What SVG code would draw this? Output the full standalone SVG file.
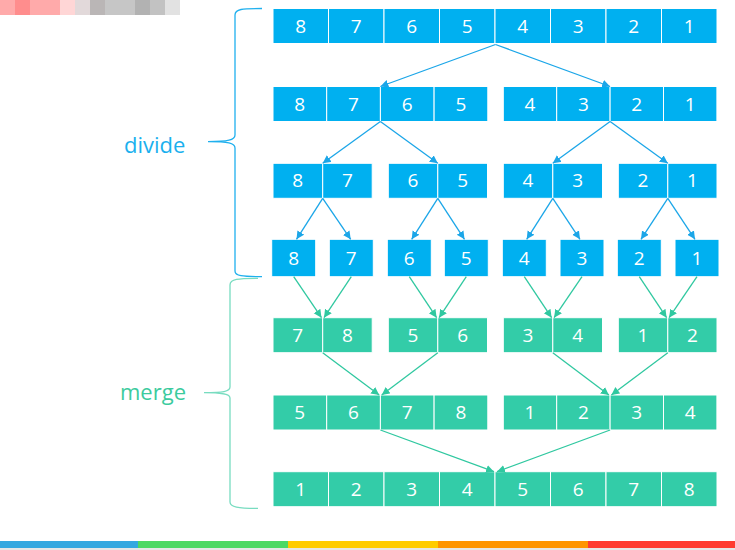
<svg xmlns="http://www.w3.org/2000/svg" width="735" height="550" viewBox="0 0 735 550">
<style>
.b rect{fill:#00B0F0;stroke:#fff;stroke-width:1}
.g rect{fill:#33CCA8;stroke:#fff;stroke-width:1}
text{font-family:"Open Sans","Liberation Sans",sans-serif;font-size:19px;fill:#fff;text-anchor:middle}
.lbl{font-size:22px;text-anchor:start}
.cb{stroke:#1BA6E8;stroke-width:1.3;fill:none;marker-end:url(#ab)}
.cg{stroke:#30C8A0;stroke-width:1.3;fill:none;marker-end:url(#ag)}
</style>
<defs>
<marker id="ab" markerUnits="userSpaceOnUse" markerWidth="9" markerHeight="9" refX="8" refY="4" orient="auto"><path d="M0,0 L8,4 L0,8 z" fill="#1BA6E8"/></marker>
<marker id="ag" markerUnits="userSpaceOnUse" markerWidth="9" markerHeight="9" refX="8" refY="4" orient="auto"><path d="M0,0 L8,4 L0,8 z" fill="#30C8A0"/></marker>
</defs>
<rect width="735" height="550" fill="#fff"/>
<g id="mosaic">
<rect x="0" y="0" width="15" height="15" fill="#FFAAAA"/>
<rect x="15" y="0" width="15" height="15" fill="#FF8D8D"/>
<rect x="30" y="0" width="30" height="15" fill="#FFAAAA"/>
<rect x="60" y="0" width="15" height="15" fill="#FFD6D6"/>
<rect x="75" y="0" width="15" height="15" fill="#E2D9DA"/>
<rect x="90" y="0" width="15" height="15" fill="#BAB6B6"/>
<rect x="105" y="0" width="30" height="15" fill="#C6C6C6"/>
<rect x="135" y="0" width="15" height="15" fill="#B2B2B2"/>
<rect x="150" y="0" width="15" height="15" fill="#C2C2C2"/>
<rect x="165" y="0" width="15" height="15" fill="#E2E2E2"/>
</g>
<g id="bar">
<rect x="0" y="541" width="138" height="7" fill="#34A8E0"/>
<rect x="138" y="541" width="150" height="7" fill="#4CD964"/>
<rect x="288" y="541" width="150" height="7" fill="#FFCC00"/>
<rect x="438" y="541" width="150" height="7" fill="#FF9500"/>
<rect x="588" y="541" width="147" height="7" fill="#FF3B30"/>
<rect x="0" y="548" width="735" height="2" fill="#E6E6E6"/>
</g>
<g id="divide-brace">
<path d="M262,8.5 C242,8.5 235,9 235,15 L235,135 C235,140 228,141.7 208,141.7 C228,141.7 235,143 235,148 L235,271 C235,276 242,276.7 262,276.7" fill="none" stroke="#1FB0EE" stroke-width="1.3"/>
<text class="lbl" x="124" y="153" style="fill:#1AB0EE">divide</text>
</g>
<g id="merge-brace">
<path d="M258,278.3 C238,278.3 230,279 230,285 L230,387 C230,391.5 223,392.7 204,392.7 C223,392.7 230,394 230,398 L230,502 C230,507 238,508.3 258,508.3" fill="none" stroke="#78DCC0" stroke-width="1.3"/>
<text class="lbl" x="120" y="400" style="fill:#3CCB9E">merge</text>
</g>
<g id="row1" class="b">
<rect x="273" y="8.5" width="55.5" height="35"/><rect x="328.5" y="8.5" width="55.5" height="35"/><rect x="384" y="8.5" width="55.5" height="35"/><rect x="439.5" y="8.5" width="55.5" height="35"/><rect x="495" y="8.5" width="55.5" height="35"/><rect x="550.5" y="8.5" width="55.5" height="35"/><rect x="606" y="8.5" width="55.5" height="35"/><rect x="661.5" y="8.5" width="55.5" height="35"/>
<text x="300.7" y="32.5">8</text><text x="356.2" y="32.5">7</text><text x="411.7" y="32.5">6</text><text x="467.2" y="32.5">5</text><text x="522.7" y="32.5">4</text><text x="578.2" y="32.5">3</text><text x="633.7" y="32.5">2</text><text x="689.2" y="32.5">1</text>
</g>
<g id="row2" class="b">
<rect x="273" y="86.5" width="53.7" height="35"/><rect x="326.7" y="86.5" width="53.7" height="35"/><rect x="380.4" y="86.5" width="53.7" height="35"/><rect x="434.1" y="86.5" width="53.7" height="35"/>
<rect x="503.3" y="86.5" width="53.4" height="35"/><rect x="556.7" y="86.5" width="53.4" height="35"/><rect x="610.1" y="86.5" width="53.4" height="35"/><rect x="663.5" y="86.5" width="53.4" height="35"/>
<text x="299.8" y="110.5">8</text><text x="353.5" y="110.5">7</text><text x="407.2" y="110.5">6</text><text x="460.9" y="110.5">5</text>
<text x="530" y="110.5">4</text><text x="583.4" y="110.5">3</text><text x="636.8" y="110.5">2</text><text x="690.2" y="110.5">1</text>
</g>
<g id="row3" class="b">
<rect x="273" y="163.3" width="49.7" height="35"/><rect x="322.7" y="163.3" width="49.5" height="35"/>
<rect x="388.3" y="163.3" width="49.5" height="35"/><rect x="437.8" y="163.3" width="49.7" height="35"/>
<rect x="503.3" y="163.3" width="49.5" height="35"/><rect x="552.8" y="163.3" width="49.7" height="35"/>
<rect x="618.3" y="163.3" width="49.5" height="35"/><rect x="667.8" y="163.3" width="49.2" height="35"/>
<text x="297.8" y="187.3">8</text><text x="347.4" y="187.3">7</text><text x="413" y="187.3">6</text><text x="462.6" y="187.3">5</text>
<text x="528" y="187.3">4</text><text x="577.6" y="187.3">3</text><text x="643" y="187.3">2</text><text x="692.4" y="187.3">1</text>
</g>
<g id="row4" class="b">
<rect x="271.7" y="239.3" width="44" height="37.4"/><rect x="329.3" y="239.3" width="44" height="37.4"/><rect x="387.3" y="239.3" width="44" height="37.4"/><rect x="444.3" y="239.3" width="44" height="37.4"/>
<rect x="502.3" y="239.3" width="44" height="37.4"/><rect x="560" y="239.3" width="44" height="37.4"/><rect x="617.3" y="239.3" width="44" height="37.4"/><rect x="675" y="239.3" width="44" height="37.4"/>
<text x="293.7" y="264.5">8</text><text x="351.3" y="264.5">7</text><text x="409.3" y="264.5">6</text><text x="466.3" y="264.5">5</text>
<text x="524.3" y="264.5">4</text><text x="582" y="264.5">3</text><text x="639.3" y="264.5">2</text><text x="697" y="264.5">1</text>
</g>
<g id="row5" class="g">
<rect x="273" y="317.7" width="49.7" height="35"/><rect x="322.7" y="317.7" width="49.5" height="35"/>
<rect x="388.3" y="317.7" width="49.5" height="35"/><rect x="437.8" y="317.7" width="49.7" height="35"/>
<rect x="503.3" y="317.7" width="49.5" height="35"/><rect x="552.8" y="317.7" width="49.7" height="35"/>
<rect x="618.3" y="317.7" width="49.5" height="35"/><rect x="667.8" y="317.7" width="49.2" height="35"/>
<text x="297.8" y="341.7">7</text><text x="347.4" y="341.7">8</text><text x="413" y="341.7">5</text><text x="462.6" y="341.7">6</text>
<text x="528" y="341.7">3</text><text x="577.6" y="341.7">4</text><text x="643" y="341.7">1</text><text x="692.4" y="341.7">2</text>
</g>
<g id="row6" class="g">
<rect x="273" y="395" width="53.7" height="35"/><rect x="326.7" y="395" width="53.7" height="35"/><rect x="380.4" y="395" width="53.7" height="35"/><rect x="434.1" y="395" width="53.7" height="35"/>
<rect x="503.3" y="395" width="53.4" height="35"/><rect x="556.7" y="395" width="53.4" height="35"/><rect x="610.1" y="395" width="53.4" height="35"/><rect x="663.5" y="395" width="53.4" height="35"/>
<text x="299.8" y="419">5</text><text x="353.5" y="419">6</text><text x="407.2" y="419">7</text><text x="460.9" y="419">8</text>
<text x="530" y="419">1</text><text x="583.4" y="419">2</text><text x="636.8" y="419">3</text><text x="690.2" y="419">4</text>
</g>
<g id="row7" class="g">
<rect x="273" y="471.7" width="55.5" height="35"/><rect x="328.5" y="471.7" width="55.5" height="35"/><rect x="384" y="471.7" width="55.5" height="35"/><rect x="439.5" y="471.7" width="55.5" height="35"/><rect x="495" y="471.7" width="55.5" height="35"/><rect x="550.5" y="471.7" width="55.5" height="35"/><rect x="606" y="471.7" width="55.5" height="35"/><rect x="661.5" y="471.7" width="55.5" height="35"/>
<text x="300.7" y="495.7">1</text><text x="356.2" y="495.7">2</text><text x="411.7" y="495.7">3</text><text x="467.2" y="495.7">4</text><text x="522.7" y="495.7">5</text><text x="578.2" y="495.7">6</text><text x="633.7" y="495.7">7</text><text x="689.2" y="495.7">8</text>
</g>
<g id="connectors">
<path class="cb" d="M495.5,44.5 L380.4,86.5"/>
<path class="cb" d="M495.5,44.5 L610.1,86.5"/>
<path class="cb" d="M380.4,121.5 L322.7,163.3"/>
<path class="cb" d="M380.4,121.5 L437.8,163.3"/>
<path class="cb" d="M610.1,121.5 L552.8,163.3"/>
<path class="cb" d="M610.1,121.5 L667.8,163.3"/>
<path class="cb" d="M322.7,198.3 L296.5,239.3"/>
<path class="cb" d="M322.7,198.3 L350.7,239.3"/>
<path class="cb" d="M437.8,198.3 L411.7,239.3"/>
<path class="cb" d="M437.8,198.3 L464.5,239.3"/>
<path class="cb" d="M552.8,198.3 L526.7,239.3"/>
<path class="cb" d="M552.8,198.3 L580,239.3"/>
<path class="cb" d="M667.8,198.3 L641,239.3"/>
<path class="cb" d="M667.8,198.3 L695,239.3"/>
<path class="cg" d="M293.7,276.7 L321.5,317.7"/>
<path class="cg" d="M351.3,276.7 L324,317.7"/>
<path class="cg" d="M409.3,276.7 L436.6,317.7"/>
<path class="cg" d="M466.3,276.7 L439.1,317.7"/>
<path class="cg" d="M524.3,276.7 L551.6,317.7"/>
<path class="cg" d="M582,276.7 L554.1,317.7"/>
<path class="cg" d="M639.3,276.7 L666.6,317.7"/>
<path class="cg" d="M697,276.7 L669.1,317.7"/>
<path class="cg" d="M322.7,352.7 L379.2,395"/>
<path class="cg" d="M437.8,352.7 L381.7,395"/>
<path class="cg" d="M552.8,352.7 L608.9,395"/>
<path class="cg" d="M667.8,352.7 L611.4,395"/>
<path class="cg" d="M380.4,430 L494,471.7"/>
<path class="cg" d="M610.1,430 L497,471.7"/>
</g>
</svg>
